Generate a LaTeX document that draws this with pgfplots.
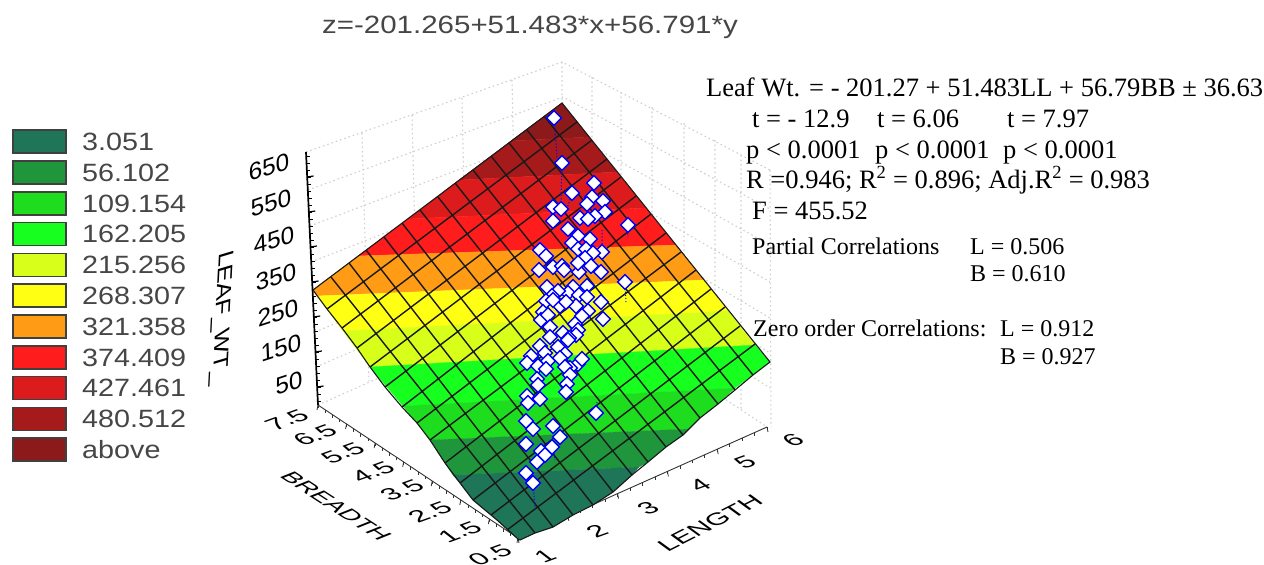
\documentclass[border=0pt]{standalone}
\usepackage{pgfplots}
\pgfplotsset{compat=1.18}
\usepackage{fontspec}
\setmainfont{Liberation Serif}
\newfontfamily\arial{Liberation Sans}
\definecolor{cA}{RGB}{31,117,88}
\definecolor{cB}{RGB}{31,150,60}
\definecolor{cC}{RGB}{30,220,30}
\definecolor{cD}{RGB}{22,255,30}
\definecolor{cE}{RGB}{215,255,25}
\definecolor{cF}{RGB}{255,255,20}
\definecolor{cG}{RGB}{255,155,20}
\definecolor{cH}{RGB}{255,28,28}
\definecolor{cI}{RGB}{220,28,28}
\definecolor{cJ}{RGB}{165,26,26}
\definecolor{cK}{RGB}{140,26,26}
\definecolor{legtxt}{RGB}{70,70,70}
\definecolor{griddot}{RGB}{205,205,205}
\pgfdeclareplotmark{rdiamond}{%
 \pgfsetcornersarced{\pgfpoint{2.4pt}{2.4pt}}%
 \pgfpathmoveto{\pgfqpoint{0.5\pgfplotmarksize}{0.5\pgfplotmarksize}}%
 \pgfpathlineto{\pgfqpoint{\pgfplotmarksize}{0pt}}%
 \pgfpathlineto{\pgfqpoint{0pt}{-\pgfplotmarksize}}%
 \pgfpathlineto{\pgfqpoint{-\pgfplotmarksize}{0pt}}%
 \pgfpathlineto{\pgfqpoint{0pt}{\pgfplotmarksize}}%
 \pgfpathclose
 \pgfusepathqfillstroke}
\newcommand{\skewtext}[7]{\node[inner sep=0] at (axis cs:#1,#2) {\tikz[baseline]\node[inner sep=0,transform shape,cm={#3,#4,#5,#6,(0,0)}]{\arial\fontsize{21}{21}\selectfont #7};};}
\newcommand{\ztick}[3]{\skewtext{#1}{#2}{1.15}{0.38}{-0.05}{1.15}{#3}}
\newcommand{\ftick}[3]{\skewtext{#1}{#2}{1.25}{0.45}{-0.85}{0.65}{#3}}
\newcommand{\leg}[3]{\addplot[fill=#2,draw=black!75,line width=1.4pt] coordinates {(13,#1) (66,#1) (66,#1+23) (13,#1+23)} -- cycle;}
\newcommand{\legt}[2]{\node[anchor=west,inner sep=0,text=legtxt] at (axis cs:82,#1) {\arial\fontsize{25}{25}\selectfont\scalebox{1.15}[1]{#2}};}
\newcommand{\rt}[3]{\node[anchor=base west,inner sep=0] at (axis cs:#1,#2) {\fontsize{26.5}{30}\selectfont #3};}
\newcommand{\rs}[3]{\node[anchor=base west,inner sep=0] at (axis cs:#1,#2) {\fontsize{24}{28}\selectfont #3};}
\begin{document}
\begin{tikzpicture}
\useasboundingbox (0,0) rectangle (1264pt,565pt);
\begin{axis}[at={(0,0)},anchor=south west,scale only axis,width=1264pt,height=565pt,
 xmin=0,xmax=1264,ymin=0,ymax=565,y dir=reverse,hide axis,clip=false,unbounded coords=jump]
% wireframe of the box
\addplot[griddot,line width=1.1pt,dash pattern=on 1.5pt off 3pt,mark=none] coordinates {
(306,152) (562,62) (770,170) (nan,nan)
(562,62) (562,103) (nan,nan)
(770,170) (771,427) (nan,nan)
(318,405) (567,294) (767,427) (nan,nan)
(308,190) (563,97) (770,209) (nan,nan)
(310,226) (563,130) (770,245) (nan,nan)
(311,262) (564,163) (770,282) (nan,nan)
(313,298) (565,196) (770,318) (nan,nan)
(315,332) (566,227) (770,353) (nan,nan)
(316,367) (566,259) (770,388) (nan,nan)
(362,133) (369,381) (nan,nan)
(412,115) (418,360) (nan,nan)
(462,98) (467,338) (nan,nan)
(512,80) (517,316) (nan,nan)
(592,77) (592,311) (nan,nan)
(621,92) (621,330) (nan,nan)
(652,107) (652,350) (nan,nan)
(684,123) (684,372) (nan,nan)
(715,140) (715,392) (nan,nan)
(741,155) (741,410)
};
% axes
\addplot[black,line width=1.7pt,mark=none] coordinates {(306,152) (318,405)};
\addplot[black!80,line width=0.9pt,mark=none] coordinates {(318,405) (518,538) (767,427)};
\pgfplotsinvokeforeach{0,...,35}{\draw[black,line width=1pt] (axis cs:{317.7-#1*0.333},{401-#1*7}) -- ++(axis direction cs:3.5,0);}
\pgfplotsinvokeforeach{2,7,...,32}{\draw[black,line width=1.2pt] (axis cs:{317.7-#1*0.333},{401-#1*7}) -- ++(axis direction cs:6.5,-1);}
\pgfplotsinvokeforeach{0,...,28}{\draw[black!80,line width=0.7pt] (axis cs:{318+#1*7.14},{405+#1*4.75}) -- ++(axis direction cs:0,3);}
\pgfplotsinvokeforeach{0,4,...,28}{\draw[black!80,line width=0.8pt] (axis cs:{318+#1*7.14},{405+#1*4.75}) -- ++(axis direction cs:-1,5);}
\pgfplotsinvokeforeach{0,...,20}{\draw[black!80,line width=0.7pt] (axis cs:{518+#1*12.45},{538-#1*5.55}) -- ++(axis direction cs:0,3);}
\pgfplotsinvokeforeach{0,4,...,20}{\draw[black!80,line width=0.8pt] (axis cs:{518+#1*12.45},{538-#1*5.55}) -- ++(axis direction cs:1,5);}
% surface bands
\addplot[fill=cK,draw=cK,line width=.3pt,mark=none] coordinates {(511,141) (562,103) (589,137)} -- cycle;
\addplot[fill=cJ,draw=cJ,line width=.3pt,mark=none] coordinates {(459,180) (511,141) (589,137) (617,172)} -- cycle;
\addplot[fill=cI,draw=cI,line width=.3pt,mark=none] coordinates {(408,219) (459,180) (617,172) (646,208)} -- cycle;
\addplot[fill=cH,draw=cH,line width=.3pt,mark=none] coordinates {(358,256) (408,219) (646,208) (676,245)} -- cycle;
\addplot[fill=cG,draw=cG,line width=.3pt,mark=none] coordinates {(317,296) (313,290) (358,256) (676,245) (704,280)} -- cycle;
\addplot[fill=cF,draw=cF,line width=.3pt,mark=none] coordinates {(343,331) (317,296) (704,280) (728,311)} -- cycle;
\addplot[fill=cE,draw=cE,line width=.3pt,mark=none] coordinates {(370,367) (343,331) (728,311) (755,345)} -- cycle;
\addplot[fill=cD,draw=cD,line width=.3pt,mark=none] coordinates {(403,406) (370,367) (755,345) (770,362) (735,388)} -- cycle;
\addplot[fill=cC,draw=cC,line width=.3pt,mark=none] coordinates {(430,440) (417,423) (403,406) (735,388) (718,404) (700,418) (689,429)} -- cycle;
\addplot[fill=cB,draw=cB,line width=.3pt,mark=none] coordinates {(453,475) (445,463) (430,440) (689,429) (683,435) (666,447) (648,462) (639,467)} -- cycle;
\addplot[fill=cA,draw=cA,line width=.3pt,mark=none] coordinates {(453,475) (460,483) (473,500) (497,520) (518,539) (520,540) (535,533) (553,527) (573,515) (593,505) (613,492) (632,475) (639,467)} -- cycle;
% mesh
\addplot[black!90,line width=1.4pt,mark=none] coordinates {
(327,309) (577,122) (nan,nan) (342,328) (592,140) (nan,nan) (357,348) (607,159) (nan,nan)
(370,367) (621,177) (nan,nan) (385,387) (636,196) (nan,nan) (402,407) (651,214) (nan,nan)
(417,423) (666,233) (nan,nan) (430,440) (681,252) (nan,nan) (445,463) (696,270) (nan,nan)
(460,483) (711,289) (nan,nan) (473,500) (725,307) (nan,nan) (491,515) (740,326) (nan,nan)
(507,530) (755,344) (nan,nan)
(331,277) (535,533) (nan,nan) (349,263) (553,527) (nan,nan) (366,250) (573,515) (nan,nan)
(384,237) (593,505) (nan,nan) (402,223) (613,492) (nan,nan) (420,210) (632,475) (nan,nan)
(438,197) (648,462) (nan,nan) (455,183) (666,447) (nan,nan) (473,170) (683,435) (nan,nan)
(491,156) (700,418) (nan,nan) (509,143) (718,404) (nan,nan) (527,130) (735,390) (nan,nan)
(544,116) (753,375)
};
\addplot[black!90,line width=1.1pt,mark=none] coordinates {
(313,290) (562,103) (770,362) (753,375) (735,390) (718,404) (700,418) (683,435) (666,447) (648,462) (632,475) (613,492) (593,505) (573,515) (553,527) (535,533) (520,540) (518,539) (497,520) (473,500) (460,483) (445,463) (430,440) (417,423) (402,407) (385,387) (370,367) (357,348) (342,328) (327,309) (313,290)};
% spikes
\addplot[blue,line width=1pt,dash pattern=on 1.2pt off 2pt,mark=none] coordinates {
(554,118) (557,157) (nan,nan) (562,163) (561,200) (nan,nan) (627,227) (628,237) (nan,nan)
(602,230) (602,247) (nan,nan) (625,282) (626,302) (nan,nan) (533,483) (535,507) (nan,nan)
(597,402) (596,413) (nan,nan) (572,193) (565,215) (nan,nan) (540,250) (543,262) (nan,nan) (553,447) (555,460)};
% observations
\addplot[only marks,mark=rdiamond,mark size=7.4pt,mark options={fill=white,draw=blue,line width=1.3pt}] coordinates {
(554,118) (562,163) (594,183) (572,193) (592,197) (587,204) (603,201) (553,207) (561,209) (605,212)
(595,216) (580,218) (588,219) (553,221) (628,225) (568,229) (578,236) (590,239) (572,243) (578,249)
(540,250) (546,256) (586,249) (602,252) (593,253) (585,258) (553,267) (539,270) (562,266) (564,270)
(579,272) (591,266) (601,272) (578,263) (625,282) (587,286) (573,287) (547,287) (568,293) (558,291)
(552,296) (579,295) (587,297) (546,301) (560,306) (576,306) (601,302) (553,300) (566,302) (588,311)
(543,312) (582,316) (603,319) (541,320) (548,315) (575,324) (550,327) (578,330) (576,335) (563,333)
(569,338) (550,337) (568,340) (540,346) (558,347) (545,353) (565,354) (531,356) (527,363) (548,361)
(560,358) (538,366) (546,369) (578,364) (570,368) (582,359) (565,367) (570,375) (537,379) (567,384)
(566,392) (538,385) (527,396) (528,403) (540,399) (596,413) (526,421) (533,429) (553,426) (560,437)
(526,444) (552,447) (541,451) (545,455) (537,462) (526,473) (533,483)};
% legend
\leg{130}{cA}{}\leg{161}{cB}{}\leg{192}{cC}{}\leg{222.5}{cD}{}\leg{253.5}{cE}{}\leg{284}{cF}{}\leg{315}{cG}{}\leg{346}{cH}{}\leg{376.5}{cI}{}\leg{407.5}{cJ}{}\leg{438}{cK}{}
\legt{142}{3.051}\legt{173}{56.102}\legt{204}{109.154}\legt{234}{162.205}\legt{265}{215.256}\legt{296}{268.307}\legt{327}{321.358}\legt{358}{374.409}\legt{388}{427.461}\legt{419}{480.512}\legt{450}{above}
% title
\node[inner sep=0,text=legtxt] at (axis cs:530,27) {\arial\fontsize{25}{25}\selectfont\scalebox{1.18}[1]{z=-201.265+51.483*x+56.791*y}};
% z tick labels
\ztick{269}{167}{650}\ztick{271}{203}{550}\ztick{274}{240}{450}\ztick{276}{277}{350}\ztick{278}{313}{250}\ztick{281}{348}{150}\ztick{289}{383}{50}
% breadth tick labels
\ftick{287}{420}{7.5}\ftick{315}{435}{6.5}\ftick{343}{453}{5.5}\ftick{373}{472}{4.5}\ftick{402}{490}{3.5}\ftick{430}{512}{2.5}\ftick{460}{532}{1.5}\ftick{490}{555}{0.5}
% length tick labels
\ftick{545}{556}{1}\ftick{597}{531}{2}\ftick{648}{508}{3}\ftick{700}{485}{4}\ftick{745}{462}{5}\ftick{793}{440}{6}
% axis titles
\skewtext{710}{523}{1.14}{0.58}{-0.85}{0.62}{LENGTH}
\skewtext{336}{506}{1.0}{-0.65}{1.0}{0.4}{BREADTH}
\skewtext{221}{318}{-0.06}{-1.22}{1.0}{0.3}{LEAF\_WT\_}
% regression text
\rt{706}{96}{Leaf Wt. = - 201.27 + 51.483LL + 56.79BB ± 36.63}
\rt{752}{127}{t = - 12.9}\rt{877}{127}{t = 6.06}\rt{1007}{127}{t = 7.97}
\rt{746}{158}{p < 0.0001}\rt{875}{158}{p < 0.0001}\rt{1003}{158}{p < 0.0001}
\rt{746}{188}{R =0.946; R\textsuperscript{2} = 0.896; Adj.R\textsuperscript{2} = 0.983}
\rt{752}{219}{F = 455.52}
\rs{752}{254}{Partial Correlations}\rs{970}{254}{L = 0.506}\rs{970}{281}{B = 0.610}
\rs{753}{336}{Zero order Correlations:}\rs{1000}{336}{L = 0.912}\rs{1000}{364}{B = 0.927}
\end{axis}
\end{tikzpicture}
\end{document}
